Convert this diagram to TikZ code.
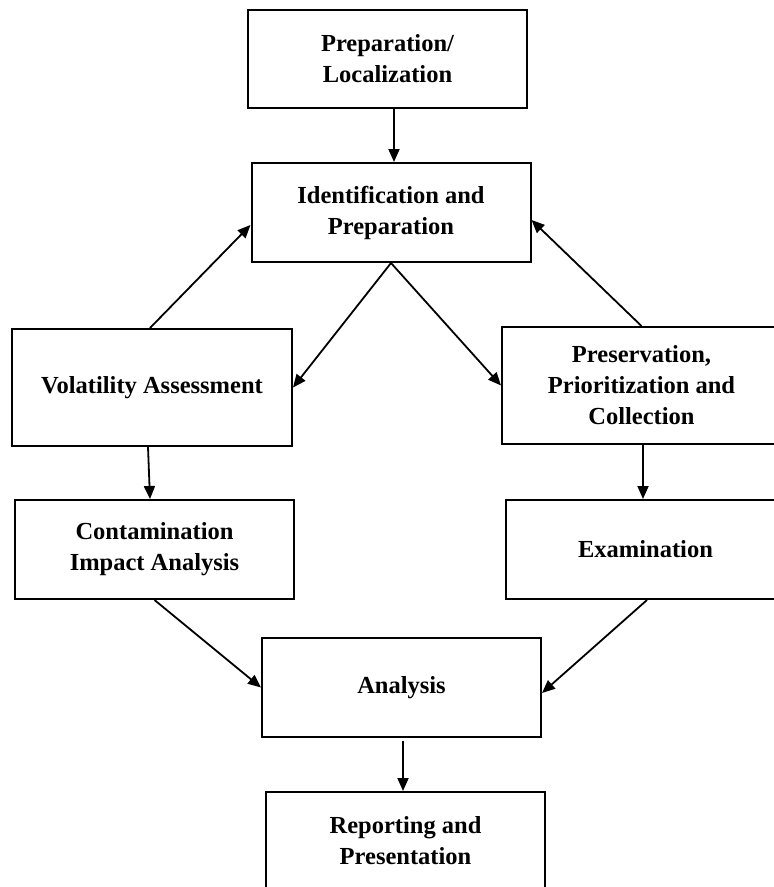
\documentclass[tikz,border=0pt]{standalone}
\usepackage{fontspec}
\setmainfont{Liberation Serif}
\usetikzlibrary{arrows.meta}
\begin{document}
\begin{tikzpicture}[x=1pt,y=-1pt,
  stagebox/.style={draw=black, line width=2pt, fill=white, rectangle, align=center, inner sep=0pt,
    minimum width=279pt, minimum height=99pt,
    font=\bfseries\fontsize{24.5}{31}\selectfont},
  flow/.style={line width=1.8pt, -{Triangle[length=13pt,width=11pt]}}]
\useasboundingbox (0,0) rectangle (774,887);
\clip (0,0) rectangle (774,887);
\fill[white] (0,0) rectangle (774,887);

\node[stagebox, minimum height=98pt] (prep) at (387.5,59) {Preparation/\\Localization};
\node[stagebox] (ident) at (391,212.5) {Identification and\\Preparation};
\node[stagebox, minimum width=280pt, minimum height=117pt] (vol) at (152,387.5) {Volatility Assessment};
\node[stagebox, minimum height=117pt] (pres) at (641.5,385.5) {Preservation,\\Prioritization and\\Collection};
\node[stagebox] (cont) at (154.5,549.5) {Contamination\\Impact Analysis};
\node[stagebox] (exam) at (645.5,549.5) {Examination};
\node[stagebox] (anal) at (401.5,687.5) {Analysis};
\node[stagebox, minimum height=98pt] (rep) at (405.5,841) {Reporting and\\Presentation};

\draw[flow] ([xshift=6.5pt]prep.south) -- ([xshift=3pt]ident.north);
\draw[flow] ([xshift=-2pt]vol.north) -- ([yshift=-12.5pt]ident.west);
\draw[flow] (ident.south) -- (vol.east);
\draw[flow] (ident.south) -- (pres.west);
\draw[flow] (pres.north) -- ([yshift=-7.5pt]ident.east);
\draw[flow] ([xshift=-4pt]vol.south) -- ([xshift=-4.5pt]cont.north);
\draw[flow] ([xshift=1.5pt]pres.south) -- ([xshift=-2.5pt]exam.north);
\draw[flow] (cont.south) -- (anal.west);
\draw[flow] ([xshift=1.5pt]exam.south) -- ([yshift=-5.5pt]anal.east);
\draw[flow, shorten <=3pt] ([xshift=1.5pt]anal.south) -- ([xshift=-2.5pt]rep.north);
\end{tikzpicture}
\end{document}
